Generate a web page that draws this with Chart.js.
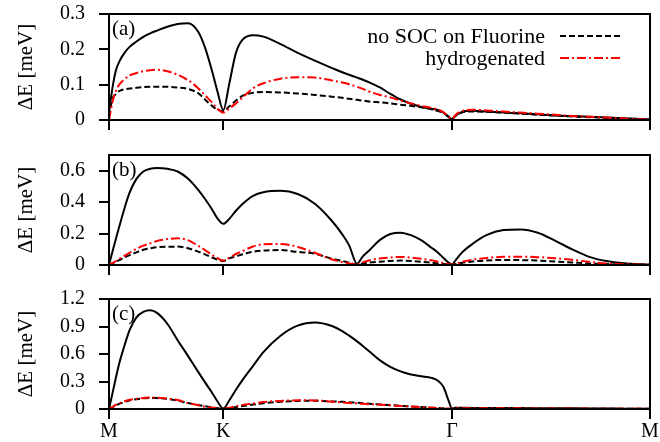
<!DOCTYPE html>
<html>
<head>
<meta charset="utf-8">
<script src="https://cdn.jsdelivr.net/npm/chart.js@4.4.1/dist/chart.umd.min.js"></script>
<style>
  html, body { margin: 0; padding: 0; background: #fff; }
  #wrap { position: relative; width: 660px; height: 442px; }
  .panel { position: absolute; left: 0; width: 660px; }
  canvas { display: block; }
</style>
</head>
<body>
<div id="wrap">
  <div class="panel" style="top:0;height:140px"><canvas id="chart-a" width="660" height="140"></canvas></div>
  <div class="panel" style="top:140px;height:140px"><canvas id="chart-b" width="660" height="140"></canvas></div>
  <div class="panel" style="top:280px;height:162px"><canvas id="chart-c" width="660" height="162"></canvas></div>
</div>
<script>
// path M -> K -> Gamma -> M, |MK| = 1/3, |KG| = 2/3, |GM| = 1/sqrt(3)
const K_TICKS = [0, 0.3333, 1.0, 1.577];
const K_LABELS = ['M', 'K', 'Γ', 'M'];

const K_PATH = [
  0, 0.01, 0.02, 0.03, 0.045, 0.06, 0.08, 0.10, 0.12, 0.14,
  0.17, 0.20, 0.23, 0.26, 0.28, 0.30, 0.315, 0.3333, 0.35, 0.37,
  0.39, 0.42, 0.45, 0.50, 0.55, 0.60, 0.65, 0.68, 0.70, 0.723,
  0.74, 0.76, 0.79, 0.82, 0.85, 0.88, 0.91, 0.94, 0.96, 0.975,
  0.99, 1.0, 1.01, 1.03, 1.06, 1.10, 1.15, 1.20, 1.25, 1.30,
  1.35, 1.40, 1.45, 1.50, 1.577,
];

// (a)
const A_FULL = [
  0.02, 0.09, 0.14, 0.165, 0.19, 0.207, 0.222, 0.235, 0.245, 0.253,
  0.264, 0.272, 0.274, 0.25, 0.205, 0.14, 0.085, 0.028, 0.10, 0.19,
  0.228, 0.24, 0.236, 0.215, 0.19, 0.168, 0.147, 0.135, 0.128, 0.12,
  0.114, 0.106, 0.092, 0.074, 0.058, 0.046, 0.037, 0.032, 0.028, 0.021,
  0.008, 0.002, 0.012, 0.023, 0.026, 0.024, 0.021, 0.019, 0.016, 0.013,
  0.011, 0.009, 0.007, 0.005, 0.002,
];
const A_NOSOC = [
  0.01, 0.06, 0.073, 0.082, 0.087, 0.089, 0.091, 0.093, 0.094, 0.094,
  0.094, 0.092, 0.088, 0.076, 0.058, 0.04, 0.03, 0.025, 0.038, 0.055,
  0.069, 0.077, 0.079, 0.078, 0.075, 0.071, 0.066, 0.063, 0.06, 0.057,
  0.055, 0.052, 0.05, 0.047, 0.043, 0.04, 0.036, 0.03, 0.025, 0.02,
  0.01, 0.005, 0.012, 0.022, 0.024, 0.023, 0.021, 0.018, 0.015, 0.013,
  0.01, 0.008, 0.006, 0.004, 0.001,
];
const A_HYD = [
  0, 0.05, 0.082, 0.1, 0.115, 0.126, 0.133, 0.138, 0.141, 0.142,
  0.138, 0.128, 0.113, 0.09, 0.07, 0.05, 0.033, 0.021, 0.032, 0.047,
  0.064, 0.09, 0.104, 0.117, 0.121, 0.12, 0.112, 0.106, 0.101, 0.094,
  0.088, 0.08, 0.071, 0.064, 0.055, 0.047, 0.04, 0.034, 0.029, 0.022,
  0.01, 0.003, 0.014, 0.026, 0.029, 0.027, 0.024, 0.021, 0.018, 0.015,
  0.011, 0.009, 0.007, 0.004, 0.001,
];

// (b)
const B_FULL = [
  0, 0.085, 0.165, 0.245, 0.36, 0.46, 0.548, 0.595, 0.612, 0.617,
  0.612, 0.595, 0.55, 0.478, 0.42, 0.355, 0.3, 0.262, 0.292, 0.345,
  0.39, 0.44, 0.463, 0.472, 0.452, 0.39, 0.28, 0.195, 0.125, 0.008,
  0.055, 0.096, 0.16, 0.197, 0.206, 0.19, 0.158, 0.11, 0.077, 0.045,
  0.015, 0.003, 0.03, 0.082, 0.135, 0.19, 0.222, 0.226, 0.205, 0.155,
  0.1, 0.052, 0.025, 0.011, 0.003,
];
const B_NOSOC = [
  0, 0.01, 0.02, 0.031, 0.048, 0.063, 0.08, 0.097, 0.106, 0.113,
  0.116, 0.117, 0.107, 0.085, 0.068, 0.048, 0.035, 0.026, 0.042, 0.055,
  0.068, 0.085, 0.092, 0.095, 0.083, 0.072, 0.04, 0.025, 0.015, 0.004,
  0.01, 0.016, 0.021, 0.026, 0.028, 0.026, 0.021, 0.014, 0.01, 0.006,
  0.003, 0.002, 0.006, 0.014, 0.022, 0.029, 0.032, 0.031, 0.028, 0.022,
  0.016, 0.01, 0.006, 0.003, 0.002,
];
const B_HYD = [
  0, 0.012, 0.025, 0.038, 0.058, 0.078, 0.103, 0.123, 0.138, 0.153,
  0.165, 0.17, 0.158, 0.122, 0.095, 0.065, 0.045, 0.028, 0.045, 0.07,
  0.09, 0.118, 0.132, 0.134, 0.115, 0.078, 0.035, 0.018, 0.01, 0.004,
  0.018, 0.03, 0.042, 0.048, 0.051, 0.047, 0.04, 0.03, 0.02, 0.013,
  0.005, 0.002, 0.008, 0.02, 0.034, 0.045, 0.052, 0.053, 0.05, 0.043,
  0.033, 0.02, 0.01, 0.005, 0.002,
];

// (c)
const C_FULL = [
  0, 0.17, 0.34, 0.5, 0.69, 0.86, 1.0, 1.06, 1.077, 1.048,
  0.93, 0.75, 0.58, 0.405, 0.29, 0.18, 0.09, 0.005, 0.09, 0.21,
  0.32, 0.47, 0.62, 0.8, 0.91, 0.943, 0.905, 0.85, 0.8, 0.738,
  0.688, 0.625, 0.53, 0.46, 0.41, 0.377, 0.358, 0.34, 0.305, 0.24,
  0.09, 0.005, 0.013, 0.013, 0.012, 0.012, 0.011, 0.01, 0.009, 0.008,
  0.007, 0.006, 0.005, 0.004, 0.003,
];
const C_NOSOC = [
  0, 0.02, 0.04, 0.056, 0.077, 0.093, 0.107, 0.116, 0.12, 0.119,
  0.11, 0.092, 0.065, 0.043, 0.03, 0.018, 0.01, 0.004, 0.01, 0.022,
  0.033, 0.048, 0.064, 0.078, 0.088, 0.09, 0.083, 0.078, 0.073, 0.068,
  0.064, 0.058, 0.05, 0.042, 0.035, 0.028, 0.021, 0.015, 0.01, 0.007,
  0.004, 0.003, 0.006, 0.006, 0.006, 0.006, 0.005, 0.005, 0.004, 0.004,
  0.003, 0.003, 0.002, 0.002, 0.002,
];
const C_HYD = [
  0, 0.022, 0.045, 0.063, 0.085, 0.1, 0.112, 0.12, 0.126, 0.124,
  0.113, 0.098, 0.065, 0.042, 0.025, 0.015, 0.008, 0.003, 0.012, 0.03,
  0.045, 0.06, 0.076, 0.088, 0.095, 0.094, 0.08, 0.072, 0.066, 0.06,
  0.056, 0.052, 0.047, 0.04, 0.032, 0.026, 0.02, 0.014, 0.01, 0.007,
  0.004, 0.003, 0.008, 0.009, 0.009, 0.008, 0.008, 0.007, 0.006, 0.005,
  0.005, 0.004, 0.003, 0.002, 0.002,
];

const INK = '#000000';
const RED = '#FF0000';
const SERIF = '"Liberation Serif", "Times New Roman", serif';

const toPoints = (values) => K_PATH.map((k, i) => ({ x: k, y: values[i] }));

// frame on all four sides, panel tag and (for panel a) the key
const panelDecor = {
  id: 'panelDecor',
  afterDraw(chart, args, opts) {
    const { ctx, chartArea: area } = chart;
    ctx.save();
    ctx.strokeStyle = INK;
    ctx.lineWidth = 2;
    ctx.strokeRect(area.left, area.top, area.right - area.left, area.bottom - area.top);

    ctx.fillStyle = INK;
    ctx.font = `21px ${SERIF}`;
    ctx.textBaseline = 'alphabetic';
    ctx.fillText(opts.tag, area.left + 3, area.top + 21);

    if (opts.key) {
      ctx.font = `22px ${SERIF}`;
      ctx.textAlign = 'right';
      opts.key.forEach((dsIndex, row) => {
        const ds = chart.data.datasets[dsIndex];
        const y = area.top + 29 + row * 22;
        ctx.fillText(ds.label, area.right - 105, y);
        ctx.strokeStyle = ds.borderColor;
        ctx.setLineDash(ds.borderDash || []);
        ctx.beginPath();
        ctx.moveTo(area.right - 90, y - 7);
        ctx.lineTo(area.right - 28, y - 7);
        ctx.stroke();
      });
    }
    ctx.restore();
  },
};

function makePanel(canvasId, { full, noSoc, hyd, yMax, yStep, top, xHeight, showX, tag, key }) {
  const tickFont = { family: SERIF, size: 20 };
  const axisGrid = { drawOnChartArea: false, tickLength: 10, color: INK, lineWidth: 2 };
  const axisBorder = { color: INK, width: 2 };

  return new Chart(document.getElementById(canvasId), {
    type: 'line',
    data: {
      datasets: [
        { label: 'hydrogenated', data: toPoints(hyd), borderColor: RED, borderDash: [9, 3, 2, 3] },
        { label: 'no SOC on Fluorine', data: toPoints(noSoc), borderColor: INK, borderDash: [6, 3] },
        { label: 'full', data: toPoints(full), borderColor: INK },
      ],
    },
    options: {
      responsive: false,
      animation: false,
      layout: { padding: { top, right: 10, left: 0, bottom: 0 } },
      elements: {
        point: { radius: 0 },
        line: { borderWidth: 2, cubicInterpolationMode: 'monotone' },
      },
      plugins: {
        legend: { display: false },
        tooltip: { enabled: false },
        panelDecor: { tag, key },
      },
      scales: {
        x: {
          type: 'linear',
          min: 0,
          max: K_TICKS[K_TICKS.length - 1],
          afterBuildTicks: (scale) => { scale.ticks = K_TICKS.map((value) => ({ value })); },
          afterFit: (scale) => {
            scale.height = xHeight;
            scale.paddingLeft = 0;
            scale.paddingRight = 0;
          },
          ticks: {
            display: showX,
            autoSkip: false,
            maxRotation: 0,
            padding: 1,
            color: INK,
            font: tickFont,
            callback: (value, index) => K_LABELS[index],
          },
          grid: axisGrid,
          border: axisBorder,
        },
        y: {
          min: 0,
          max: yMax,
          afterFit: (scale) => {
            scale.width = 109;
            scale.paddingTop = 0;
            scale.paddingBottom = 0;
          },
          ticks: { stepSize: yStep, includeBounds: false, padding: 14, color: INK, font: tickFont },
          title: {
            display: true,
            text: 'ΔE [meV]',
            color: INK,
            font: { family: SERIF, size: 21 },
            padding: { top: 14, bottom: 0 },
          },
          grid: axisGrid,
          border: axisBorder,
        },
      },
    },
    plugins: [panelDecor],
  });
}

makePanel('chart-a', {
  full: A_FULL, noSoc: A_NOSOC, hyd: A_HYD,
  yMax: 0.3, yStep: 0.1, top: 14, xHeight: 20, showX: false, tag: '(a)', key: [1, 0],
});
makePanel('chart-b', {
  full: B_FULL, noSoc: B_NOSOC, hyd: B_HYD,
  yMax: 0.7, yStep: 0.2, top: 15, xHeight: 15, showX: false, tag: '(b)',
});
makePanel('chart-c', {
  full: C_FULL, noSoc: C_NOSOC, hyd: C_HYD,
  yMax: 1.2, yStep: 0.3, top: 19, xHeight: 33, showX: true, tag: '(c)',
});
</script>
</body>
</html>
